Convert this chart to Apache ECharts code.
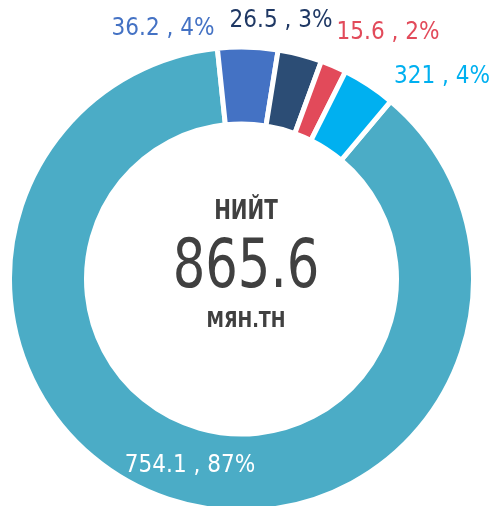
<!DOCTYPE html>
<html>
<head>
<meta charset="utf-8">
<script src="https://cdn.jsdelivr.net/npm/echarts@6/dist/echarts.min.js"></script>
<style>
html,body{margin:0;padding:0;background:#fff;}
#chart{width:492px;height:506px;}
</style>
</head>
<body>
<div id="chart"></div>
<script>
// Data
const categories = ['Ангилал 1', 'Ангилал 2', 'Ангилал 3', 'Ангилал 4', 'Ангилал 5'];
const values = [754.1, 36.2, 26.5, 15.6, 32.1];
const valueLabels = ['754.1', '36.2', '26.5', '15.6', '321'];
const totalTitle = 'НИЙТ';
const totalValue = '865.6';
const totalUnit = 'МЯН.ТН';

// Styles
const sliceColors = ['#4bacc6', '#4472c4', '#2c4d75', '#e24a5a', '#00b0f0'];
const labelColors = ['#ffffff', '#4472c4', '#1f3864', '#e24a5a', '#00b0f0'];
const labelPos = [[190, 466], [163, 29], [281, 21], [388, 33], [442, 77]];
const FONT = '"Liberation Sans Narrow", "DejaVu Sans Condensed", sans-serif';

const chart = echarts.init(document.getElementById('chart'), null, {renderer: 'canvas'});
chart.setOption({
  animation: false,
  series: [{
    type: 'pie',
    center: [241.5, 279],
    radius: [155, 232],
    startAngle: 50,
    clockwise: true,
    percentPrecision: 0,
    avoidLabelOverlap: false,
    itemStyle: {borderColor: '#ffffff', borderWidth: 5},
    emphasis: {disabled: true},
    label: {
      show: true,
      position: 'outside',
      fontFamily: FONT,
      fontSize: 24,
      formatter: p => valueLabels[p.dataIndex] + ' , ' + p.percent + '%'
    },
    labelLine: {show: false},
    labelLayout: p => ({
      x: labelPos[p.dataIndex][0],
      y: labelPos[p.dataIndex][1],
      align: 'center',
      verticalAlign: 'middle'
    }),
    data: values.map((v, i) => ({
      name: categories[i],
      value: v,
      itemStyle: {color: sliceColors[i]},
      label: {color: labelColors[i]}
    }))
  }],
  graphic: [
    {type: 'text', x: 246, y: 212, scaleX: 0.82, style: {text: totalTitle, fill: '#404040', font: 'bold 27px ' + FONT, align: 'center', verticalAlign: 'middle'}},
    {type: 'text', x: 246, y: 270, scaleX: 0.85, style: {text: totalValue, fill: '#404040', font: '67px ' + FONT, align: 'center', verticalAlign: 'middle'}},
    {type: 'text', x: 246, y: 322, scaleX: 0.93, style: {text: totalUnit, fill: '#404040', font: 'bold 21px ' + FONT, align: 'center', verticalAlign: 'middle'}}
  ]
});
</script>
</body>
</html>
